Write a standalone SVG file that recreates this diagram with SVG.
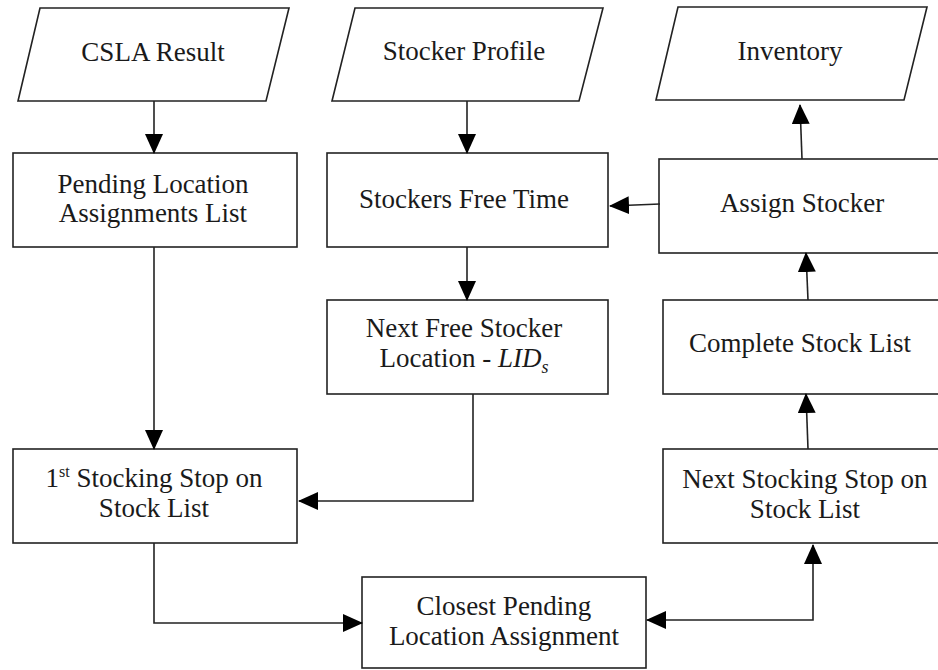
<svg xmlns="http://www.w3.org/2000/svg" width="938" height="670" viewBox="0 0 938 670">
<defs>
<style>
.n{fill:#fff;stroke:#222;stroke-width:1.6}
.t{font-family:"Liberation Serif","Times New Roman",serif;font-size:27px;fill:#1a1a1a;text-anchor:middle}
.c{fill:none;stroke:#222;stroke-width:1.6}
</style>
<marker id="ah" viewBox="0 0 20 18" refX="19" refY="9" markerWidth="20" markerHeight="18" markerUnits="userSpaceOnUse" orient="auto-start-reverse">
<path d="M0,0 L20,9 L0,18 Z" fill="#000"/>
</marker>
</defs>
<rect width="938" height="670" fill="#fff"/>
<g id="csla"><polygon class="n" points="40,8 289,8 266,101 18,101"/><text class="t" x="153" y="61">CSLA Result</text></g>
<g id="profile"><polygon class="n" points="355,8 603,8 579,101 332,101"/><text class="t" x="464" y="60">Stocker Profile</text></g>
<g id="inventory"><polygon class="n" points="678,7 927,7 904,100 656,100"/><text class="t" x="790" y="60">Inventory</text></g>
<g id="pending"><rect class="n" x="13" y="153" width="284" height="94"/><text class="t" x="153" y="193">Pending Location</text><text class="t" x="153" y="222">Assignments List</text></g>
<g id="freetime"><rect class="n" x="327" y="153" width="281" height="94"/><text class="t" x="464" y="208">Stockers Free Time</text></g>
<g id="assign"><rect class="n" x="659" y="159" width="290" height="94"/><text class="t" x="802" y="212">Assign Stocker</text></g>
<g id="nextfree"><rect class="n" x="327" y="300" width="281" height="94"/><text class="t" x="464" y="337">Next Free Stocker</text><text class="t" x="464" y="367">Location - <tspan font-style="italic">LID</tspan><tspan font-style="italic" font-size="18" dy="6">s</tspan></text></g>
<g id="complete"><rect class="n" x="663" y="300" width="290" height="94"/><text class="t" x="800" y="352">Complete Stock List</text></g>
<g id="first"><rect class="n" x="13" y="449" width="284" height="94"/><text class="t" x="154" y="487">1<tspan font-size="16" dy="-10">st</tspan><tspan dy="10"> Stocking Stop on</tspan></text><text class="t" x="154" y="517">Stock List</text></g>
<g id="nextstop"><rect class="n" x="663" y="449" width="290" height="94"/><text class="t" x="805" y="488">Next Stocking Stop on</text><text class="t" x="805" y="518">Stock List</text></g>
<g id="closest"><rect class="n" x="362" y="577" width="284" height="91"/><text class="t" x="504" y="615">Closest Pending</text><text class="t" x="504" y="645">Location Assignment</text></g>
<g id="connectors">
<path class="c" d="M154,101 L154,153" marker-end="url(#ah)"/>
<path class="c" d="M467,101 L467,153" marker-end="url(#ah)"/>
<path class="c" d="M467,247 L467,300" marker-end="url(#ah)"/>
<path class="c" d="M660,204 L610,206" marker-end="url(#ah)"/>
<path class="c" d="M802,159 L800,105" marker-end="url(#ah)"/>
<path class="c" d="M808,300 L806,253" marker-end="url(#ah)"/>
<path class="c" d="M808,449 L806,394" marker-end="url(#ah)"/>
<path class="c" d="M154,247 L154,449" marker-end="url(#ah)"/>
<path class="c" d="M473,394 L473,501 L299,501" marker-end="url(#ah)"/>
<path class="c" d="M154,543 L154,623 L362,623" marker-end="url(#ah)"/>
<path class="c" d="M647,620 L813,620 L813,545" marker-start="url(#ah)" marker-end="url(#ah)"/>
</g>
</svg>
